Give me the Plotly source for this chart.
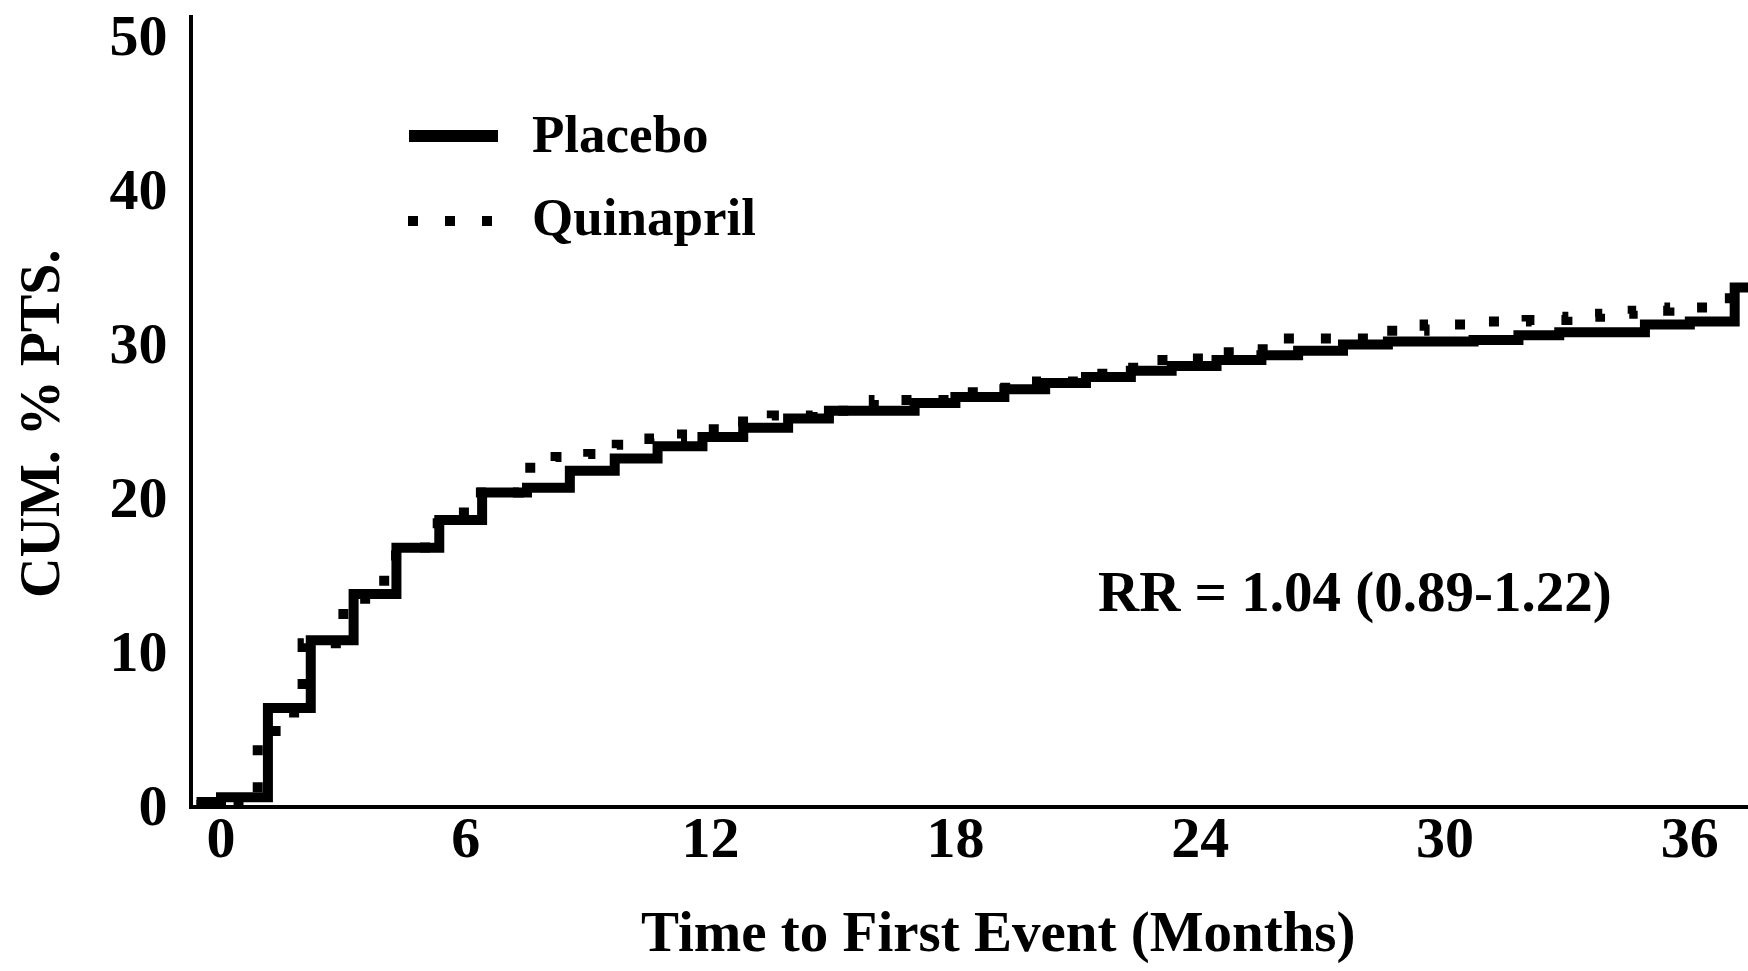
import plotly.graph_objects as go

# Cumulative percentage of patients with a first event, by month
placebo_months = [-0.6, 0.0, 1.15, 2.2, 3.25, 4.3, 5.35, 6.4, 7.5, 8.55, 9.65, 10.7,
                  11.8, 12.8, 13.9, 14.9, 17.0, 18.0, 19.2, 20.2, 21.2, 22.3, 23.3,
                  24.4, 25.5, 26.4, 27.5, 28.6, 30.7, 31.8, 32.8, 34.9, 36.0, 37.1, 37.45]
placebo_pct = [0.2, 0.5, 6.3, 10.7, 13.7, 16.7, 18.5, 20.3, 20.6, 21.7, 22.5, 23.3,
               23.9, 24.5, 25.1, 25.6, 26.1, 26.5, 27.0, 27.4, 27.8, 28.2, 28.5,
               28.9, 29.2, 29.5, 29.9, 30.1, 30.2, 30.5, 30.7, 31.2, 31.4, 33.6, 33.6]

quinapril_months = [-0.6, 0.9, 1.5, 2.0, 3.0, 4.0, 5.0, 5.8, 6.2, 7.3, 8.2, 9.0, 9.7,
                    10.5, 11.3, 12.5, 13.5, 14.5, 16.0, 18.0, 18.8, 20.0, 21.0, 22.0,
                    22.7, 23.6, 24.5, 25.3, 26.0, 28.5, 29.5, 31.0, 32.0, 33.0, 33.8,
                    34.6, 35.5, 36.3, 37.0]
quinapril_pct = [0.0, 4.8, 6.0, 10.5, 13.4, 16.2, 18.3, 19.0, 20.3, 21.9, 22.6, 22.8,
                 23.4, 23.8, 24.4, 24.9, 25.3, 25.6, 26.3, 26.8, 27.1, 27.5, 28.0,
                 28.4, 28.9, 29.0, 29.4, 29.6, 30.3, 30.8, 31.2, 31.4, 31.5, 31.7,
                 31.9, 32.1, 32.3, 32.9, 32.9]

x_ticks = [0, 6, 12, 18, 24, 30, 36]
y_ticks = [0, 10, 20, 30, 40, 50]

FONT = "Liberation Serif"
W, H = 1748, 971
ML, MR, MT, MB = 193, 0, 15, 166
PW, PH = W - ML - MR, H - MT - MB
DOT_DASH = "10px,27px"


def px_to_paper_x(px):
    return (px - ML) / PW


def px_to_paper_y(py):
    return (H - MB - py) / PH


fig = go.Figure()

fig.add_trace(go.Scatter(
    x=placebo_months, y=placebo_pct, mode="lines", line_shape="hv",
    line=dict(color="black", width=10), name="Placebo", showlegend=False,
))
fig.add_trace(go.Scatter(
    x=quinapril_months, y=quinapril_pct, mode="lines", line_shape="hv",
    line=dict(color="black", width=10, dash=DOT_DASH), name="Quinapril",
    showlegend=False,
))

# Hand-placed key: line samples plus labels
fig.add_shape(type="line", xref="paper", yref="paper",
              x0=px_to_paper_x(409), x1=px_to_paper_x(498),
              y0=px_to_paper_y(136), y1=px_to_paper_y(136),
              line=dict(color="black", width=12))
fig.add_shape(type="line", xref="paper", yref="paper",
              x0=px_to_paper_x(408), x1=px_to_paper_x(498),
              y0=px_to_paper_y(221), y1=px_to_paper_y(221),
              line=dict(color="black", width=10, dash=DOT_DASH))

label_font = dict(family=FONT, size=53, color="black", weight="bold")
fig.add_annotation(text="Placebo", xref="paper", yref="paper",
                   x=px_to_paper_x(530), y=px_to_paper_y(134),
                   xanchor="left", yanchor="middle", showarrow=False, font=label_font)
fig.add_annotation(text="Quinapril", xref="paper", yref="paper",
                   x=px_to_paper_x(530), y=px_to_paper_y(217),
                   xanchor="left", yanchor="middle", showarrow=False, font=label_font)

fig.add_annotation(text="RR = 1.04 (0.89-1.22)", x=27.8, y=13.8,
                   xanchor="center", yanchor="middle", showarrow=False,
                   font=dict(family=FONT, size=57, color="black", weight="bold"))

fig.add_annotation(text="Time to First Event (Months)", xref="paper", yref="paper",
                   x=px_to_paper_x(998), y=px_to_paper_y(932),
                   xanchor="center", yanchor="middle", showarrow=False,
                   font=dict(family=FONT, size=57, color="black", weight="bold"))
fig.add_annotation(text="CUM. % PTS.", xref="paper", yref="paper",
                   x=px_to_paper_x(40), y=px_to_paper_y(424), textangle=-90,
                   xanchor="center", yanchor="middle", showarrow=False,
                   font=dict(family=FONT, size=56, color="black", weight="bold"))

tick_font = dict(family=FONT, size=58, color="black", weight="bold")
fig.update_xaxes(
    range=[-28 / 40.8, (W - ML - 28) / 40.8], tickvals=x_ticks,
    showline=True, linecolor="black", linewidth=4, showgrid=False, zeroline=False,
    ticks="", tickfont=tick_font, ticklabelstandoff=-22,
)
fig.update_yaxes(
    range=[0, PH / 15.4], tickvals=y_ticks,
    showline=True, linecolor="black", linewidth=4, showgrid=False, zeroline=False,
    ticks="", tickfont=tick_font, ticklabelstandoff=10,
)

fig.update_layout(
    width=W, height=H,
    margin=dict(l=ML, r=MR, t=MT, b=MB, pad=0),
    paper_bgcolor="white", plot_bgcolor="white",
    showlegend=False,
)

fig.write_html("out.html")
